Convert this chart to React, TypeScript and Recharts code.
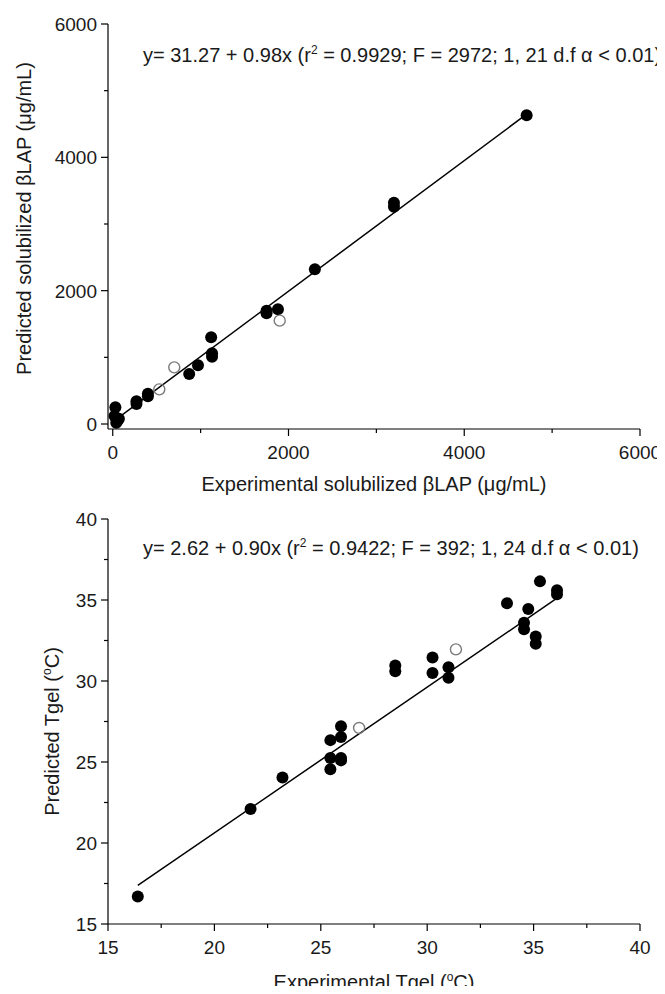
import React from 'react';
import { ScatterChart, Scatter, XAxis, YAxis, ReferenceLine, Label } from 'recharts';

const FONT = '"Liberation Sans", Arial, Helvetica, sans-serif';
const TXT = '#1a1a1a';

// ---------- Top chart: solubilized βLAP ----------
const topFilledX = [30, 20, 55, 70, 40, 270, 270, 400, 400, 870, 970, 1120, 1130, 1130, 1750, 1750, 1880, 2300, 3200, 3200, 4710];
const topFilledY = [250, 120, 50, 80, 20, 340, 300, 455, 415, 750, 880, 1300, 1060, 1010, 1700, 1660, 1720, 2320, 3320, 3260, 4630];
const topOpenX = [530, 700, 1900];
const topOpenY = [520, 850, 1550];
const topFitCoef = [31.27, 0.98];
const topFitRange = [0, 4710];
const topTicks = [0, 1000, 2000, 3000, 4000, 5000, 6000];
const topMajor = [0, 2000, 4000, 6000];

// ---------- Bottom chart: Tgel ----------
const botFilledX = [16.4, 21.7, 23.2, 25.45, 25.45, 25.45, 25.95, 25.95, 25.95, 25.95, 28.5, 28.5, 30.25, 30.25, 31.0, 31.0, 33.75, 34.55, 34.55, 34.75, 35.1, 35.1, 35.3, 36.1, 36.1];
const botFilledY = [16.7, 22.1, 24.05, 25.25, 24.55, 26.35, 25.25, 25.1, 26.55, 27.2, 30.95, 30.6, 31.45, 30.5, 30.85, 30.2, 34.8, 33.6, 33.2, 34.45, 32.75, 32.3, 36.15, 35.6, 35.35];
const botOpenX = [26.8, 31.35];
const botOpenY = [27.1, 31.95];
const botFitCoef = [2.62, 0.9];
const botFitRange = [16.4, 36.1];
const botTicks = [15, 17.5, 20, 22.5, 25, 27.5, 30, 32.5, 35, 37.5, 40];
const botMajor = [15, 20, 25, 30, 35, 40];

const zip = (xs: number[], ys: number[]) => xs.map((x, i) => ({ x, y: ys[i] }));
const fitSeg = (c: number[], r: number[]) => r.map((x) => ({ x, y: c[0] + c[1] * x }));

const FilledDot = (p: any) => <circle cx={p.cx} cy={p.cy} r={6} fill="#000" />;
const OpenDot = (p: any) => <circle cx={p.cx} cy={p.cy} r={5.5} fill="none" stroke="#7a7a7a" strokeWidth={1.4} />;

const makeXTick = (major: number[]) => (p: any) => {
  const v = p.payload.value;
  const isMajor = major.includes(v);
  return (
    <g>
      <line x1={p.x} x2={p.x} y1={p.y} y2={p.y + (isMajor ? 7 : 4)} stroke="#000" strokeWidth={1.2} />
      {isMajor && (
        <text x={p.x} y={p.y + 30} textAnchor="middle" fontSize={19} fontFamily={FONT} fill={TXT}>
          {v}
        </text>
      )}
    </g>
  );
};

const makeYTick = (major: number[]) => (p: any) => {
  const v = p.payload.value;
  const isMajor = major.includes(v);
  return (
    <g>
      <line x1={p.x} x2={p.x - (isMajor ? 7 : 4)} y1={p.y} y2={p.y} stroke="#000" strokeWidth={1.2} />
      {isMajor && (
        <text x={p.x - 11} y={p.y + 7} textAnchor="end" fontSize={19} fontFamily={FONT} fill={TXT}>
          {v}
        </text>
      )}
    </g>
  );
};

const xLabel = (parts: React.ReactNode, dy: number) => (p: any) => {
  const vb = p.viewBox || {};
  const cx = vb.x + vb.width / 2;
  return (
    <text x={cx} y={vb.y + dy} textAnchor="middle" fontSize={20} fontFamily={FONT} fill={TXT}>
      {parts}
    </text>
  );
};

const yLabel = (parts: React.ReactNode, cx: number, shift: number) => (p: any) => {
  const vb = p.viewBox || {};
  const cy = vb.y + vb.height / 2 + shift;
  return (
    <text transform={`translate(${cx},${cy}) rotate(-90)`} x={0} y={7} textAnchor="middle" fontSize={20} fontFamily={FONT} fill={TXT}>
      {parts}
    </text>
  );
};

const degC = [
  <tspan key="a">(</tspan>,
  <tspan key="b" fontSize={12} dy={-8}>o</tspan>,
  <tspan key="c" dy={8}>C)</tspan>,
];

const Equation = ({ top, a, b, r2, F, df }: any) => (
  <div
    style={{
      position: 'absolute',
      left: 135,
      top,
      fontSize: 20,
      lineHeight: '22px',
      fontFamily: FONT,
      color: TXT,
      whiteSpace: 'nowrap',
    }}
  >
    {`y= ${a} + ${b}x (r`}
    <span style={{ fontSize: 12, position: 'relative', top: -8 }}>2</span>
    {` = ${r2}; F = ${F}; ${df} d.f α < 0.01)`}
  </div>
);

// Page offset compensation: body has an 8px margin, so children are shifted by -8.
export default function App() {
  const topFilled = zip(topFilledX, topFilledY);
  const topOpen = zip(topOpenX, topOpenY);
  const botFilled = zip(botFilledX, botFilledY);
  const botOpen = zip(botOpenX, botOpenY);
  const axisProps = { axisLine: { stroke: '#000', strokeWidth: 1.2 }, tickLine: false, tickSize: 0, tickMargin: 0, interval: 0 as const };

  return (
    <div style={{ width: 649, height: 978, position: 'relative' }}>
      <div style={{ position: 'absolute', left: -8, top: -8 }}>
        <ScatterChart width={665} height={510} margin={{ top: 24, right: 25, bottom: 0, left: 0 }}>
          <XAxis type="number" dataKey="x" domain={[-54, 6000]} ticks={topTicks} allowDataOverflow height={81} tick={makeXTick(topMajor)} {...axisProps}>
            <Label content={xLabel(['Experimental solubilized βLAP (μg/mL)'], 62)} />
          </XAxis>
          <YAxis type="number" dataKey="y" domain={[-75, 6000]} ticks={topTicks} allowDataOverflow width={108} tick={makeYTick(topMajor)} {...axisProps}>
            <Label content={yLabel(['Predicted solubilized βLAP (μg/mL)'], 24, -8)} />
          </YAxis>
          <ReferenceLine segment={fitSeg(topFitCoef, topFitRange)} stroke="#000" strokeWidth={1.5} />
          <Scatter data={topFilled} shape={FilledDot} isAnimationActive={false} />
          <Scatter data={topOpen} shape={OpenDot} isAnimationActive={false} />
        </ScatterChart>
      </div>
      <div style={{ position: 'absolute', left: -8, top: 472 }}>
        <ScatterChart width={665} height={514} margin={{ top: 39, right: 25, bottom: 0, left: 0 }}>
          <XAxis type="number" dataKey="x" domain={[15, 40]} ticks={botTicks} allowDataOverflow height={70} tick={makeXTick(botMajor)} {...axisProps}>
            <Label content={xLabel(['Experimental Tgel ', ...degC], 65)} />
          </XAxis>
          <YAxis type="number" dataKey="y" domain={[15, 40]} ticks={botTicks} allowDataOverflow width={108} tick={makeYTick(botMajor)} {...axisProps}>
            <Label content={yLabel(['Predicted Tgel ', ...degC], 52, 10)} />
          </YAxis>
          <ReferenceLine segment={fitSeg(botFitCoef, botFitRange)} stroke="#000" strokeWidth={1.5} />
          <Scatter data={botFilled} shape={FilledDot} isAnimationActive={false} />
          <Scatter data={botOpen} shape={OpenDot} isAnimationActive={false} />
        </ScatterChart>
      </div>
      <Equation top={36} a="31.27" b="0.98" r2="0.9929" F="2972" df="1, 21" />
      <Equation top={529} a="2.62" b="0.90" r2="0.9422" F="392" df="1, 24" />
    </div>
  );
}
